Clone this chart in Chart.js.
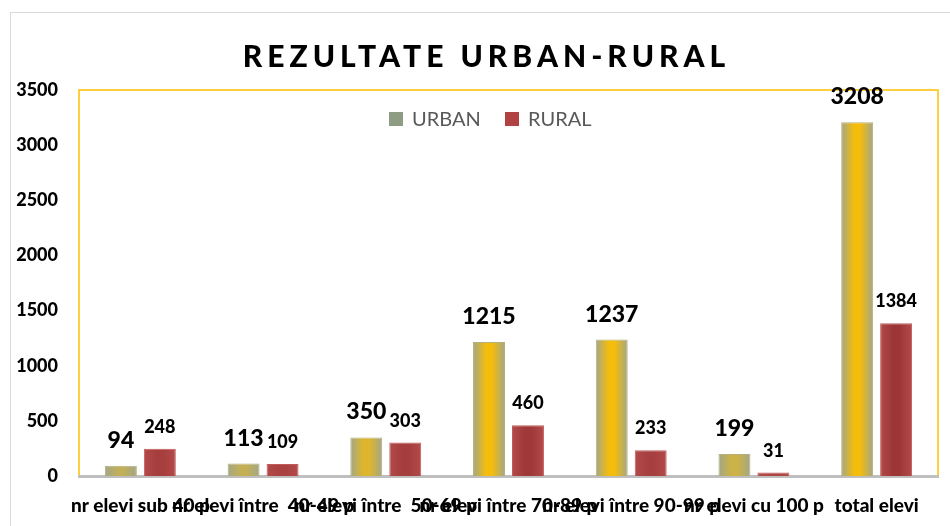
<!DOCTYPE html>
<html>
<head>
  <meta charset="UTF-8" />
  <title>Rezultate urban-rural</title>
  <style>
    body {
      margin: 0;
      background-color: white;
    }
    #wrap {
      position: relative;
      width: 950px;
      height: 526px;
    }
  </style>
  <script src="https://cdn.jsdelivr.net/npm/chart.js"></script>
</head>
<body>

<div id="wrap">
  <canvas id="chartRezultate" width="950" height="526"></canvas>
</div>

<script>
// Data
const titlu = "REZULTATE URBAN-RURAL";
const categorii = [
    "nr elevi sub 40 p",
    "nr elevi între  40-49 p",
    "nr elevi între  50-69 p",
    "nr elevi între 70-89 p",
    "nr elevi între 90-99 p",
    "nr elevi cu 100 p",
    "total elevi"
];
const urban = [94, 113, 350, 1215, 1237, 199, 3208];
const rural = [248, 109, 303, 460, 233, 31, 1384];
const yTicks = [0, 500, 1000, 1500, 2000, 2500, 3000, 3500];

const FONT = "Lato, 'Open Sans', sans-serif";

function mix(a, b, t) {
    const pa = a.match(/\w\w/g).map(h => parseInt(h, 16));
    const pb = b.match(/\w\w/g).map(h => parseInt(h, 16));
    return "rgb(" + pa.map((v, i) => Math.round(v + (pb[i] - v) * t)).join(",") + ")";
}

// Horizontal gradient across each bar (soft edges like the original);
// short bars stay closer to the edge tone
function barFill(edge, mid) {
    return function (ctx) {
        const meta = ctx.chart.getDatasetMeta(ctx.datasetIndex);
        const el = meta && meta.data[ctx.dataIndex];
        if (!el || !el.width) return mid;
        const h = Math.abs(el.base - el.y);
        const core = mix(edge, mid, Math.min(1, 0.25 + h / 80));
        const x0 = el.x - el.width / 2, x1 = el.x + el.width / 2;
        const g = ctx.chart.ctx.createLinearGradient(x0, 0, x1, 0);
        g.addColorStop(0, edge);
        g.addColorStop(0.4, core);
        g.addColorStop(0.6, core);
        g.addColorStop(1, edge);
        return g;
    };
}

// Frame, plot border, title, legend and value labels
const decorPlugin = {
    id: "decor",
    beforeDraw(chart) {
        const c = chart.ctx, a = chart.chartArea;
        c.save();
        c.fillStyle = "white";
        c.fillRect(0, 0, chart.width, chart.height);
        c.strokeStyle = "#D9D9D9";
        c.lineWidth = 1;
        c.strokeRect(10.5, 12.5, 1000, 1000);
        c.strokeStyle = "#FFC000";
        c.lineWidth = 1.5;
        c.strokeRect(a.left, a.top, a.right - a.left, a.bottom - a.top);

        // title
        c.fillStyle = "black";
        c.font = "900 30px " + FONT;
        c.letterSpacing = "5px";
        c.textBaseline = "alphabetic";
        c.textAlign = "left";
        const w = c.measureText(titlu).width - 5;
        c.fillText(titlu, 484 - w / 2, 67);
        c.letterSpacing = "0px";
        c.restore();
    },
    afterDatasetsDraw(chart) {
        const c = chart.ctx;
        c.save();
        // legend
        const items = [
            { text: "URBAN", color: "#8E9C84" },
            { text: "RURAL", color: "#B04242" }
        ];
        c.font = "20px " + FONT;
        c.textBaseline = "middle";
        c.textAlign = "left";
        let x = 389;
        const y = 119;
        items.forEach(it => {
            c.fillStyle = it.color;
            c.fillRect(x, y - 7, 14, 14);
            c.fillStyle = "#595959";
            c.fillText(it.text, x + 23, y + 1);
            x += 116;
        });

        // value labels
        c.fillStyle = "black";
        c.textAlign = "center";
        c.textBaseline = "alphabetic";
        chart.data.datasets.forEach((ds, i) => {
            const meta = chart.getDatasetMeta(i);
            c.font = (i === 0 ? "900 23px " : "900 18px ") + FONT;
            const off = i === 0 ? 18 : 16;
            meta.data.forEach((el, j) => {
                c.fillText(String(ds.data[j]), el.x, el.y - off);
            });
        });
        c.restore();
    }
};

const chart = new Chart(document.getElementById("chartRezultate").getContext("2d"), {
    type: "bar",
    data: {
        labels: categorii,
        datasets: [
            {
                label: "URBAN",
                data: urban,
                backgroundColor: barFill("#A2A788", "#F4BC0C"),
                borderColor: "#B4B07E",
                borderWidth: 1
            },
            {
                label: "RURAL",
                data: rural,
                backgroundColor: barFill("#B44A4A", "#9C3636"),
                borderColor: "#C25A5A",
                borderWidth: 1
            }
        ]
    },
    options: {
        responsive: false,
        animation: false,
        layout: { padding: { left: 0, right: 12, top: 90, bottom: 0 } },
        categoryPercentage: 0.635,
        barPercentage: 0.82,
        scales: {
            x: {
                grid: { display: false, drawTicks: false },
                border: { display: true, color: "#BFBFBF", width: 3 },
                ticks: {
                    color: "black",
                    font: { family: FONT, size: 19, weight: "900" },
                    autoSkip: false,
                    maxRotation: 0,
                    minRotation: 0,
                    padding: 18
                },
                afterFit(s) { s.height = 50; }
            },
            y: {
                min: 0,
                max: 3500,
                afterBuildTicks(s) { s.ticks = yTicks.map(v => ({ value: v })); },
                grid: { display: false, drawTicks: false },
                border: { display: false },
                ticks: {
                    color: "black",
                    font: { family: FONT, size: 18, weight: "900" },
                    padding: 21,
                    callback: v => String(v)
                },
                afterFit(s) { s.width = 79; }
            }
        },
        plugins: {
            legend: { display: false },
            title: { display: false },
            tooltip: { enabled: false }
        }
    },
    plugins: [decorPlugin]
});
// second pass so the gradients know where each bar sits
chart.update("none");
</script>

</body>
</html>
